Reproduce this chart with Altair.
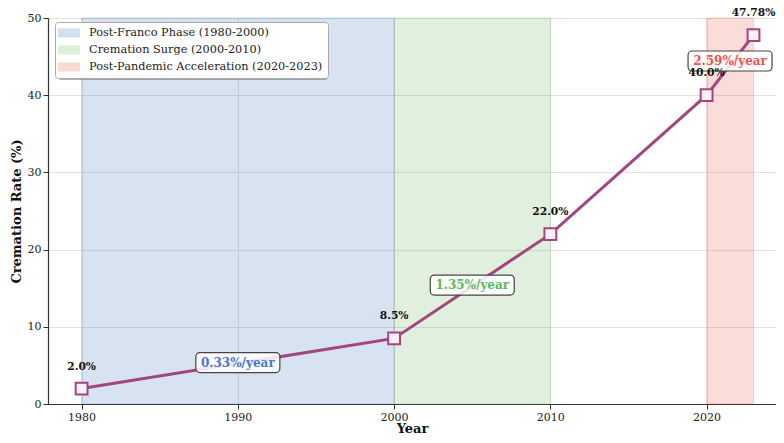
import altair as alt
import pandas as pd

years = [1980, 2000, 2010, 2020, 2023]
rates = [2.0, 8.5, 22.0, 40.0, 47.78]
point_labels = ["2.0%", "8.5%", "22.0%", "40.0%", "47.78%"]

band_names = ["Post-Franco Phase (1980-2000)", "Cremation Surge (2000-2010)",
              "Post-Pandemic Acceleration (2020-2023)"]
band_start = [1980, 2000, 2020]
band_end = [2000, 2010, 2023]
band_colors = ["#3a74c0", "#6ab65a", "#e8503f"]

rate_labels = ["0.33%/year", "1.35%/year", "2.59%/year"]
rate_x = [1990, 2005, 2021.5]
rate_y = [5.37, 15.41, 44.43]
rate_colors = ["#4a78c8", "#5cb85c", "#f0524a"]

FONT = "DejaVu Serif"
LINE = "#a2467f"

pts = pd.DataFrame({"Year": years, "Rate": rates, "label": point_labels})
bands = pd.DataFrame({"name": band_names, "start": band_start, "end": band_end})
rl = pd.DataFrame({"label": rate_labels, "x": rate_x, "y": rate_y, "color": rate_colors})

xscale = alt.Scale(domain=[1977.85, 2024.44], nice=False, zero=False)
yscale = alt.Scale(domain=[0, 50], nice=False)

band_layer = alt.Chart(bands).mark_rect(fillOpacity=0.2, strokeOpacity=0.22, strokeWidth=1).encode(
    x=alt.X("start:Q", scale=xscale,
            axis=alt.Axis(values=[1980, 1990, 2000, 2010, 2020], format="d", title="Year",
                          titleY=28.5, titleBaseline="alphabetic")),
    x2="end:Q",
    y=alt.value(0),
    y2=alt.value(386),
    fill=alt.Fill("name:N", scale=alt.Scale(domain=band_names, range=band_colors),
                  legend=alt.Legend(title=None, orient="none", legendX=7, legendY=4,
                                    symbolType="M-1.85,-0.75H1.85V0.75H-1.85Z", symbolSize=144,
                                    symbolOpacity=0.22, symbolStrokeWidth=0,
                                    symbolOffset=3, labelOffset=14,
                                    labelFont=FONT, labelFontSize=11.3, labelColor="#222",
                                    rowPadding=5, padding=5, fillColor="white",
                                    strokeColor="#aaa", cornerRadius=3, labelLimit=400)),
    stroke=alt.Stroke("name:N", scale=alt.Scale(domain=band_names, range=band_colors), legend=None),
)

shadow = alt.Chart(bands).mark_rect(color="#777", opacity=0.55, cornerRadius=3).encode(
    x=alt.value(10), x2=alt.value(280), y=alt.value(7), y2=alt.value(62),
).transform_filter(alt.datum.start == 1980)

line = alt.Chart(pts).mark_line(color=LINE, strokeWidth=3).encode(
    x=alt.X("Year:Q", scale=xscale),
    y=alt.Y("Rate:Q", scale=yscale,
            axis=alt.Axis(values=[0, 10, 20, 30, 40, 50], title="Cremation Rate (%)")),
)

marks = alt.Chart(pts).mark_point(shape="square", size=140, filled=True, fill="#fbf0f6",
                                  stroke=LINE, strokeWidth=2, opacity=1).encode(
    x=alt.X("Year:Q", scale=xscale),
    y=alt.Y("Rate:Q", scale=yscale),
)

ptext = alt.Chart(pts).mark_text(font=FONT, fontSize=10.7, fontWeight="bold", color="#111",
                                 dy=-22).encode(
    x=alt.X("Year:Q", scale=xscale),
    y=alt.Y("Rate:Q", scale=yscale),
    text="label:N",
)

boxes = alt.Chart(rl).mark_rect(width=84, height=20, cornerRadius=4, fill="white",
                                fillOpacity=0.85, stroke="#444", strokeWidth=1.2).encode(
    x=alt.X("x:Q", scale=xscale),
    y=alt.Y("y:Q", scale=yscale),
)

rtext = alt.Chart(rl).mark_text(font=FONT, fontSize=12, fontWeight="bold").encode(
    x=alt.X("x:Q", scale=xscale),
    y=alt.Y("y:Q", scale=yscale),
    text="label:N",
    color=alt.Color("color:N", scale=None),
)

chart = alt.layer(band_layer, shadow, line, marks, boxes, rtext, ptext).properties(
    width=728, height=386,
    autosize=alt.AutoSizeParams(type="none"),
    padding={"left": 40, "top": 10, "right": 0, "bottom": 31},
).configure_view(stroke=None).configure_axis(
    labelFont=FONT, labelFontSize=11, labelColor="#222",
    titleFont=FONT, titleFontSize=13, titleFontWeight="bold", titleColor="#111",
    domainColor="#333", domainWidth=1.2, tickColor="#333", tickSize=5,
    gridColor="#d9d9d9", gridWidth=0.8, labelPadding=2, titlePadding=4,
)

chart.save("out.html", embed_options={"renderer": "svg", "actions": False})
